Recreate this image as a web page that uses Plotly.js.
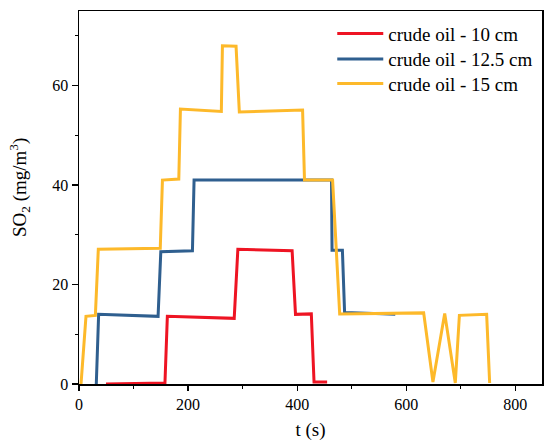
<!DOCTYPE html>
<html>
<head>
<meta charset="utf-8">
<script src="https://cdn.plot.ly/plotly-3.0.1.min.js"></script>
<style>html,body{margin:0;padding:0;background:#fff;}#chart{width:550px;height:448px;}</style>
</head>
<body>
<div id="chart"></div>
<script>
// Series names
var seriesNames = ["crude oil - 10 cm", "crude oil - 12.5 cm", "crude oil - 15 cm"];

// crude oil - 10 cm
var t10 = [49.5, 157.6, 162, 284.6, 291.3, 390.8, 397, 426, 431, 455];
var so2_10 = [0, 0.2, 13.6, 13.2, 27.1, 26.8, 14.0, 14.1, 0.4, 0.4];

// crude oil - 12.5 cm
var t125 = [31.7, 36, 145, 150, 208, 211, 463, 464, 483, 487, 580];
var so2_125 = [0, 14.0, 13.6, 26.6, 26.8, 41.0, 41.0, 26.9, 26.9, 14.4, 14.0];

// crude oil - 15 cm
var t15 = [3.7, 12.8, 30, 35.4, 149, 153, 183, 186, 261, 263, 288, 294, 410, 413.5, 465, 478, 632, 649, 670.6, 690, 697.5, 747.5, 753];
var so2_15 = [0, 13.6, 13.8, 27.1, 27.3, 41.0, 41.2, 55.3, 54.8, 68.0, 67.9, 54.7, 55.1, 41.0, 41.0, 14.1, 14.3, 0.4, 14.2, 0.2, 13.8, 14.0, 0.2];

// Tick labels
var xTicks = [0, 200, 400, 600, 800];
var xMinor = [100, 300, 500, 700];
var yTicks = [0, 20, 40, 60];
var yMinor = [10, 30, 50, 70];

var colors = ["#ee1423", "#2f5f8f", "#fdb92a"];
var serif = "Liberation Serif, Times New Roman, serif";

var traces = [
  {x: t10, y: so2_10, name: seriesNames[0], mode: "lines", line: {color: colors[0], width: 3}, legend: "legend"},
  {x: t125, y: so2_125, name: seriesNames[1], mode: "lines", line: {color: colors[1], width: 3}, legend: "legend2"},
  {x: t15, y: so2_15, name: seriesNames[2], mode: "lines", line: {color: colors[2], width: 3}, legend: "legend3"}
];

function leg(y) {
  return {
    x: 0.547, xanchor: "left", y: y, yanchor: "middle",
    bgcolor: "rgba(0,0,0,0)", borderwidth: 0,
    font: {family: serif, size: 19, color: "#000"},
    itemwidth: 46
  };
}

var layout = {
  width: 550, height: 448,
  margin: {l: 79, r: 8, t: 11, b: 64},
  paper_bgcolor: "#fff", plot_bgcolor: "#fff",
  font: {family: serif, color: "#000", size: 16},
  showlegend: true,
  legend: leg(0.939),
  legend2: leg(0.871),
  legend3: leg(0.805),
  xaxis: {
    range: [0, 849], showgrid: false, zeroline: false,
    showline: true, linecolor: "#000", linewidth: 1.5, mirror: true,
    ticks: "outside", ticklen: 5, tickwidth: 1.2, tickcolor: "#000",
    tickvals: xTicks,
    minor: {tickvals: xMinor, ticks: "outside", ticklen: 3, tickwidth: 1.2, tickcolor: "#000"},
    tickfont: {family: serif, size: 16, color: "#000"},
    title: {text: "t (s)", font: {family: serif, size: 19, color: "#000"}, standoff: 11}
  },
  yaxis: {
    range: [0, 75], showgrid: false, zeroline: false,
    showline: true, linecolor: "#000", linewidth: 1.5, mirror: true,
    ticks: "outside", ticklen: 6, tickwidth: 1.2, tickcolor: "#000",
    tickvals: yTicks,
    minor: {tickvals: yMinor, ticks: "outside", ticklen: 3, tickwidth: 1.2, tickcolor: "#000"},
    tickfont: {family: serif, size: 16, color: "#000"}
  },
  annotations: [{
    text: "SO<sub>2</sub> (mg/m<sup>3</sup>)", textangle: -90,
    xref: "paper", yref: "paper", x: -0.1297, y: 0.528,
    xanchor: "center", yanchor: "middle", showarrow: false,
    font: {family: serif, size: 19, color: "#000"}
  }]
};

Plotly.newPlot("chart", traces, layout, {displayModeBar: false, staticPlot: true});
</script>
</body>
</html>
